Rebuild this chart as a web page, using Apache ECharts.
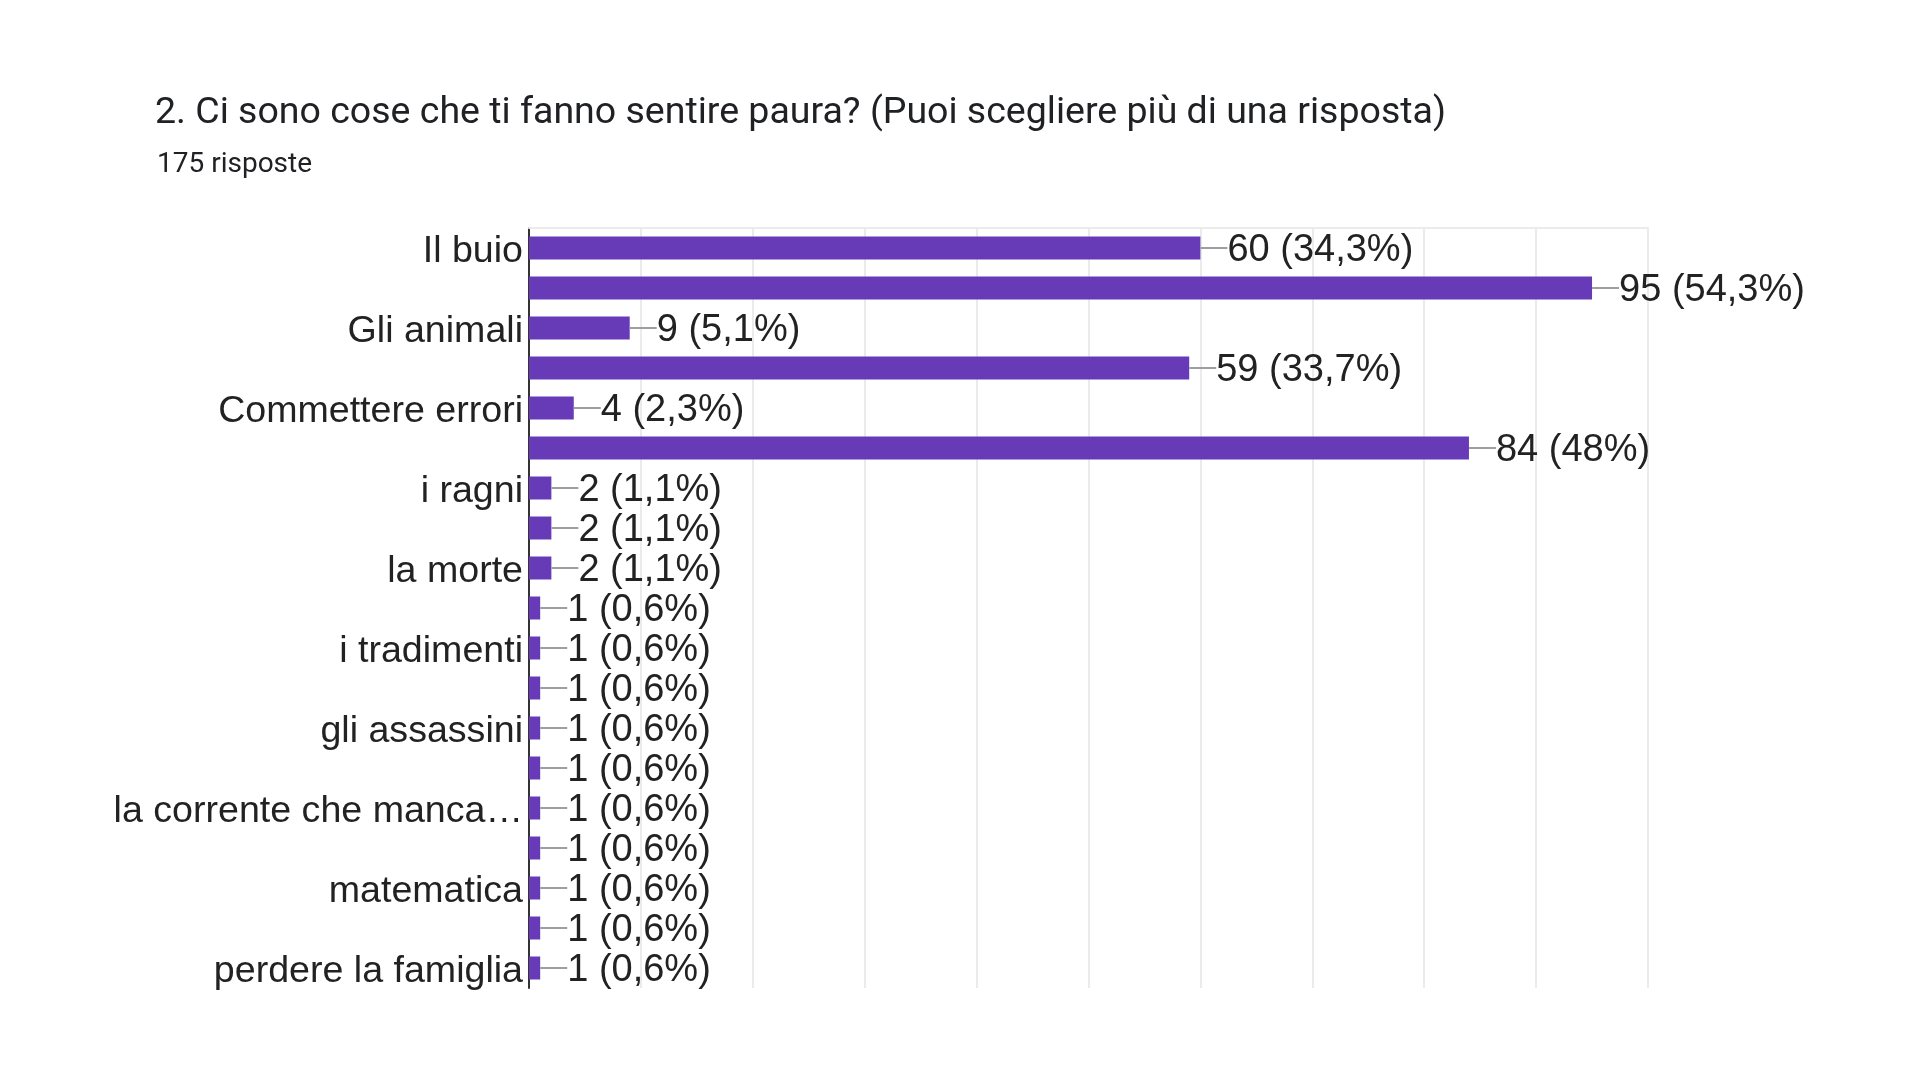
<!DOCTYPE html>
<html>
<head>
<meta charset="utf-8">
<script src="https://cdn.jsdelivr.net/npm/echarts@6/dist/echarts.min.js"></script>
<style>
html,body{margin:0;padding:0;background:#fff;}
#chart{width:1920px;height:1080px;}
</style>
</head>
<body>
<div id="chart"></div>
<script>
const titleText = '2. Ci sono cose che ti fanno sentire paura? (Puoi scegliere più di una risposta)';
const subtitleText = '175 risposte';
const totalResponses = 175;
const categories = [
  'Il buio',
  'Restare da solo/a',
  'Gli animali',
  'I mostri',
  'Commettere errori',
  'Perdere una persona cara',
  'i ragni',
  'i serpenti',
  'la morte',
  'i fantasmi',
  'i tradimenti',
  'la guerra',
  'gli assassini',
  'le altezze',
  'la corrente che manca…',
  'i ladri',
  'matematica',
  'le verifiche',
  'perdere la famiglia'
];
const values = [60, 95, 9, 59, 4, 84, 2, 2, 2, 1, 1, 1, 1, 1, 1, 1, 1, 1, 1];
const axisMax = 100;
const axisStep = 10;

function pct(v) {
  let p = Math.round(v / totalResponses * 1000) / 10;
  let s = (p % 1 === 0) ? String(p.toFixed(0)) : p.toFixed(1);
  return s.replace('.', ',');
}

const labelFont = '"Liberation Sans", Arial, sans-serif';
const chart = echarts.init(document.getElementById('chart'));
chart.setOption({
  backgroundColor: '#ffffff',
  animation: false,
  title: [
    {
      text: titleText,
      left: 150,
      top: 90,
      textStyle: {fontFamily: 'Roboto', fontSize: 37.5, fontWeight: 'normal', color: '#202124'}
    },
    {
      text: subtitleText,
      left: 152,
      top: 146,
      textStyle: {fontFamily: 'Roboto', fontSize: 28, fontWeight: 'normal', color: '#202124'}
    }
  ],
  grid: {left: 529, right: 272, top: 228, height: 760, containLabel: false},
  xAxis: [
    {
      type: 'value', min: 0, max: axisMax, interval: axisStep,
      axisLine: {show: false}, axisTick: {show: false}, axisLabel: {show: false},
      splitLine: {show: true, lineStyle: {color: '#ebebeb', width: 2}}
    },
    {
      type: 'value', position: 'top', min: 0, max: axisMax, interval: axisStep,
      axisLine: {show: true, lineStyle: {color: '#ebebeb', width: 2}},
      axisTick: {show: false}, axisLabel: {show: false}, splitLine: {show: false}
    }
  ],
  yAxis: {
    type: 'category',
    data: categories,
    inverse: true,
    axisLine: {show: true, lineStyle: {color: '#333333', width: 2}},
    axisTick: {show: false},
    axisLabel: {
      interval: 1,
      margin: 6,
      formatter: function (v) { return '{c|' + v + '}'; },
      rich: {
        c: {fontFamily: labelFont, fontSize: 37.6, color: '#222222', padding: [8, 0, 0, 0]}
      },
      fontFamily: labelFont,
      fontSize: 37.6,
      color: '#222222'
    },
    splitLine: {show: false}
  },
  series: [{
    type: 'bar',
    data: values,
    barWidth: 23,
    itemStyle: {color: '#673ab7'},
    label: {
      show: true,
      position: 'right',
      distance: 0,
      formatter: function (p) { return '{l|}{v|' + p.value + ' (' + pct(p.value) + '%)}'; },
      rich: {
        l: {width: 27, height: 2, backgroundColor: '#9e9e9e', verticalAlign: 'middle'},
        v: {fontFamily: labelFont, fontSize: 38, color: '#222222', verticalAlign: 'middle', padding: [6, 0, 0, 0]}
      }
    }
  }]
});
</script>
</body>
</html>
